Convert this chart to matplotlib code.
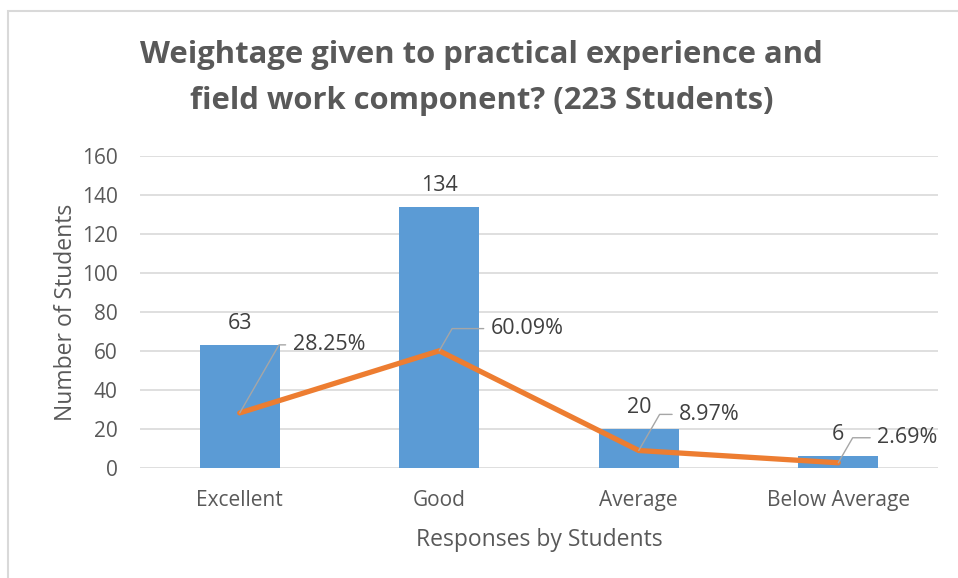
import matplotlib
matplotlib.use("Agg")
import matplotlib.pyplot as plt
from matplotlib.patches import Rectangle

plt.rcParams['font.family'] = ['Open Sans', 'DejaVu Sans']

# data
categories = ['Excellent', 'Good', 'Average', 'Below Average']
students = [63, 134, 20, 6]
percent = [28.25, 60.09, 8.97, 2.69]
yticks = [0, 20, 40, 60, 80, 100, 120, 140, 160]

bar_color = '#5B9BD5'
line_color = '#ED7D31'
text_color = '#595959'
label_color = '#404040'
grid_color = '#D9D9D9'

fig = plt.figure(figsize=(9.58, 5.78), dpi=100)
ax = fig.add_axes([140 / 958, 1 - 468 / 578, 798 / 958, 312 / 578])

x = list(range(len(categories)))
ax.bar(x, students, width=0.4, color=bar_color, zorder=2)
ax.plot(x, percent, color=line_color, lw=3.8, solid_capstyle='round',
        solid_joinstyle='round', zorder=3)

# value labels above bars
for xi, v in zip(x, students):
    ax.annotate(str(v), (xi, v), xytext=(0, 8), textcoords='offset points',
                ha='center', va='bottom', fontsize=15.5, color=label_color)

# percent labels with leader lines (offsets in points)
offsets = [(38, 49), (37, 16), (29, 26), (28, 18)]
for xi, p, (dx, dy) in zip(x, percent, offsets):
    ax.annotate(f'{p:.2f}%', (xi, p), xytext=(dx, dy), textcoords='offset points',
                ha='left', va='center', fontsize=15.5, color=label_color,
                arrowprops=dict(arrowstyle='-', color='#A6A6A6', lw=1,
                                shrinkA=3, shrinkB=0, relpos=(0, 0.5),
                                connectionstyle='angle,angleA=180,angleB=60,rad=0'),
                zorder=4)

ax.set_xlim(-0.5, len(categories) - 0.5)
ax.set_ylim(0, 160)
ax.set_yticks(yticks)
ax.set_xticks(x)
ax.set_xticklabels(categories)
ax.tick_params(length=0, labelsize=15, colors=text_color)
ax.tick_params(axis='x', pad=16)
ax.tick_params(axis='y', pad=16)
ax.grid(axis='y', color=grid_color, lw=1.2, zorder=0)
ax.set_axisbelow(True)
for s in ax.spines.values():
    s.set_visible(False)

ax.set_ylabel('Number of Students', fontsize=16.5, color=text_color, labelpad=3)
ax.set_xlabel('Responses by Students', fontsize=16.5, color=text_color, labelpad=12)

fig.text(0.503, 1 - 78 / 578, 'Weightage given to practical experience and\nfield work component? (223 Students)',
         ha='center', va='center', fontsize=22.3, fontweight='bold', color=text_color,
         linespacing=1.68)

# chart frame
fig.patches.append(Rectangle((8 / 958, -0.1), 1.2, 1 - 11 / 578 + 0.1,
                             transform=fig.transFigure, fill=False,
                             edgecolor=grid_color, lw=1.5))

fig.savefig('out.png', dpi=100)
